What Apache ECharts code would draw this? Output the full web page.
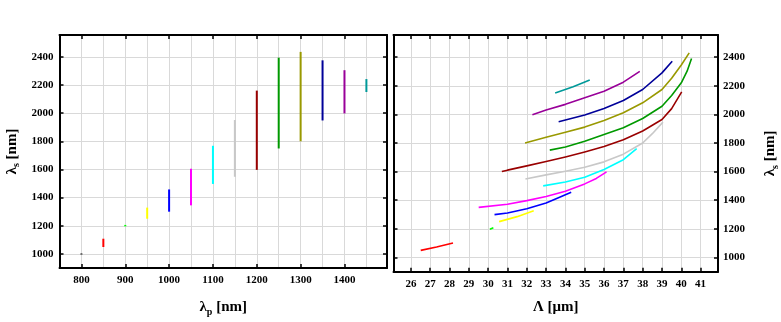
<!DOCTYPE html>
<html>
<head>
<meta charset="utf-8">
<script src="https://cdn.jsdelivr.net/npm/echarts@6.0.0/dist/echarts.min.js"></script>
<style>
  html, body { margin: 0; padding: 0; background: #fff; }
  #chart { width: 781px; height: 322px; }
</style>
</head>
<body>
<div id="chart"></div>
<script>
// pump wavelengths (nm) and colours of each tuning curve
const pumpWl = [800, 850, 900, 950, 1000, 1050, 1100, 1150, 1200, 1250, 1300, 1350, 1400, 1450]
const colors = ['#000000', '#ff0000', '#00ff00', '#ffff00', '#0000ff', '#ff00ff', '#00ffff',
  '#c8c8c8', '#990000', '#009900', '#999900', '#000099', '#990099', '#009999']

// signal range covered at each pump wavelength (nm)
const signalMin = [996, 1049, 1196, 1250, 1300, 1345, 1497, 1548, 1597, 1749, 1800, 1948, 1998, 2150]
const signalMax = [1003, 1108, 1206, 1329, 1458, 1605, 1768, 1951, 2160, 2394, 2435, 2375, 2305, 2242]

// poling period (um) vs signal (nm), one curve per pump wavelength (800 nm falls outside the plot)
const curve800 = []
const curve850 = [[26.51, 1049], [27.33, 1073], [28.18, 1101]]
const curve900 = [[30.09, 1197], [30.27, 1207]]
const curve950 = [[30.57, 1250], [31.5, 1285], [32.36, 1327]]
const curve1000 = [[30.33, 1299], [31, 1311], [32, 1340], [33, 1380], [33.7, 1420], [34.3, 1455]]
const curve1050 = [[29.51, 1350], [31, 1372], [32, 1397], [33, 1426], [34, 1462], [35, 1514], [35.6, 1552], [36.13, 1598]]
const curve1100 = [[32.85, 1500], [34, 1527], [35, 1561], [36, 1615], [37, 1683], [37.69, 1760]]
const curve1150 = [[31.93, 1548], [33, 1577], [34, 1602], [35, 1630], [36, 1668], [37, 1722], [38, 1800], [38.5, 1865], [39.05, 1946]]
const curve1200 = [[30.71, 1600], [31, 1610], [32, 1640], [33, 1670], [34, 1702], [35, 1737], [36, 1775], [37, 1822], [38, 1884], [39, 1964], [39.5, 2040], [40.02, 2157]]
const curve1250 = [[33.19, 1750], [34, 1772], [35, 1812], [36, 1860], [37, 1906], [38, 1971], [39, 2057], [39.5, 2132], [40, 2221], [40.3, 2302], [40.53, 2390]]
const curve1300 = [[31.91, 1800], [33, 1840], [34, 1875], [35, 1911], [36, 1957], [37, 2011], [38, 2081], [39, 2174], [39.5, 2252], [40, 2345], [40.41, 2430]]
const curve1350 = [[33.65, 1949], [35, 1995], [36, 2041], [37, 2097], [38, 2174], [39, 2290], [39.53, 2372]]
const curve1400 = [[32.29, 1998], [33, 2030], [34, 2070], [35, 2116], [36, 2162], [37, 2225], [37.85, 2301]]
const curve1450 = [[33.47, 2150], [34.4, 2193], [35.26, 2241]]
const curves = [curve800, curve850, curve900, curve950, curve1000, curve1050, curve1100,
  curve1150, curve1200, curve1250, curve1300, curve1350, curve1400, curve1450]

// tick labels
const pumpTicks = [800, 900, 1000, 1100, 1200, 1300, 1400]
const periodTicks = [26, 27, 28, 29, 30, 31, 32, 33, 34, 35, 36, 37, 38, 39, 40, 41]
const signalTicks = [1000, 1200, 1400, 1600, 1800, 2000, 2200, 2400]

const font = 'Liberation Serif'
const frame = { show: true, lineStyle: { color: '#000', width: 2 } }
const grey = { show: true, lineStyle: { color: '#d9d9d9', width: 1 } }
const label = { fontFamily: font, fontWeight: 'bold', fontSize: 11, color: '#000', formatter: v => String(v) }

function ticks(values) {
  return { show: true, inside: true, length: 4, customValues: values, lineStyle: { color: '#000', width: 1.5 } }
}

function title(sym, sub, unit) {
  return '{a|' + sym + '}{s|' + sub + '}{a| ' + unit + '}'
}
const titleStyle = {
  fontFamily: font,
  fontWeight: 'bold',
  fontSize: 15,
  color: '#000',
  rich: {
    a: { fontFamily: font, fontWeight: 'bold', fontSize: 15, color: '#000', lineHeight: 20, verticalAlign: 'bottom' },
    s: { fontFamily: font, fontWeight: 'bold', fontSize: 10, color: '#000', lineHeight: 20, verticalAlign: 'bottom', padding: [0, 0, -2, 0] }
  }
}

const yMin = 900
const yMax = 2555

const series = []
pumpWl.forEach((p, i) => {
  series.push({
    type: 'line',
    xAxisIndex: 0,
    yAxisIndex: 0,
    data: [[p, signalMin[i]], [p, signalMax[i]]],
    showSymbol: false,
    lineStyle: { color: colors[i], width: 2 },
    z: 5
  })
  if (curves[i].length) {
    series.push({
      type: 'line',
      xAxisIndex: 3,
      yAxisIndex: 2,
      data: curves[i],
      showSymbol: false,
      lineStyle: { color: colors[i], width: 1.6, join: 'round' },
      z: 5
    })
  }
})

const chart = echarts.init(document.getElementById('chart'), null, { renderer: 'canvas' })
chart.setOption({
  animation: false,
  backgroundColor: '#fff',
  grid: [
    { left: 59.5, top: 35, width: 327.5, height: 236.7 },
    { left: 393.5, top: 35, width: 328.2, height: 236.7 }
  ],
  xAxis: [
    {
      gridIndex: 0, type: 'value', position: 'bottom', min: 750, max: 1497,
      axisLine: frame, axisTick: ticks(pumpTicks),
      axisLabel: Object.assign({ margin: 7, customValues: pumpTicks }, label),
      splitLine: grey,
      name: title('λ', 'p', '[nm]'), nameLocation: 'middle', nameGap: 27, nameTextStyle: titleStyle
    },
    {
      gridIndex: 0, type: 'value', position: 'bottom', min: 750, max: 1497, interval: 50,
      axisLine: { show: false }, axisTick: { show: false }, axisLabel: { show: false },
      splitLine: grey
    },
    {
      gridIndex: 0, type: 'value', position: 'top', min: 750, max: 1497,
      axisLine: frame, axisTick: ticks(pumpTicks), axisLabel: { show: false }, splitLine: { show: false }
    },
    {
      gridIndex: 1, type: 'value', position: 'bottom', min: 25.1, max: 41.9,
      axisLine: frame, axisTick: ticks(periodTicks),
      axisLabel: Object.assign({ margin: 7, customValues: periodTicks }, label),
      splitLine: grey,
      name: 'Λ [μm]', nameLocation: 'middle', nameGap: 28,
      nameTextStyle: { fontFamily: font, fontWeight: 'bold', fontSize: 15, color: '#000' }
    },
    {
      gridIndex: 1, type: 'value', position: 'top', min: 25.1, max: 41.9,
      axisLine: frame, axisTick: ticks(periodTicks), axisLabel: { show: false }, splitLine: { show: false }
    }
  ],
  yAxis: [
    {
      gridIndex: 0, type: 'value', position: 'left', min: yMin, max: yMax,
      axisLine: frame, axisTick: ticks(signalTicks),
      axisLabel: Object.assign({ margin: 6, customValues: signalTicks }, label),
      splitLine: grey,
      name: title('λ', 's', '[nm]'), nameLocation: 'middle', nameRotate: 90, nameGap: 40, nameTextStyle: titleStyle
    },
    {
      gridIndex: 0, type: 'value', position: 'right', min: yMin, max: yMax,
      axisLine: frame, axisTick: ticks(signalTicks), axisLabel: { show: false }, splitLine: { show: false }
    },
    {
      gridIndex: 1, type: 'value', position: 'right', min: yMin, max: yMax,
      axisLine: frame, axisTick: ticks(signalTicks),
      axisLabel: Object.assign({ margin: 5, customValues: signalTicks }, label),
      splitLine: grey,
      name: title('λ', 's', '[nm]'), nameLocation: 'middle', nameRotate: 90, nameGap: 40, nameTextStyle: titleStyle
    },
    {
      gridIndex: 1, type: 'value', position: 'left', min: yMin, max: yMax,
      axisLine: frame, axisTick: ticks(signalTicks), axisLabel: { show: false }, splitLine: { show: false }
    }
  ],
  series: series
})
</script>
</body>
</html>
